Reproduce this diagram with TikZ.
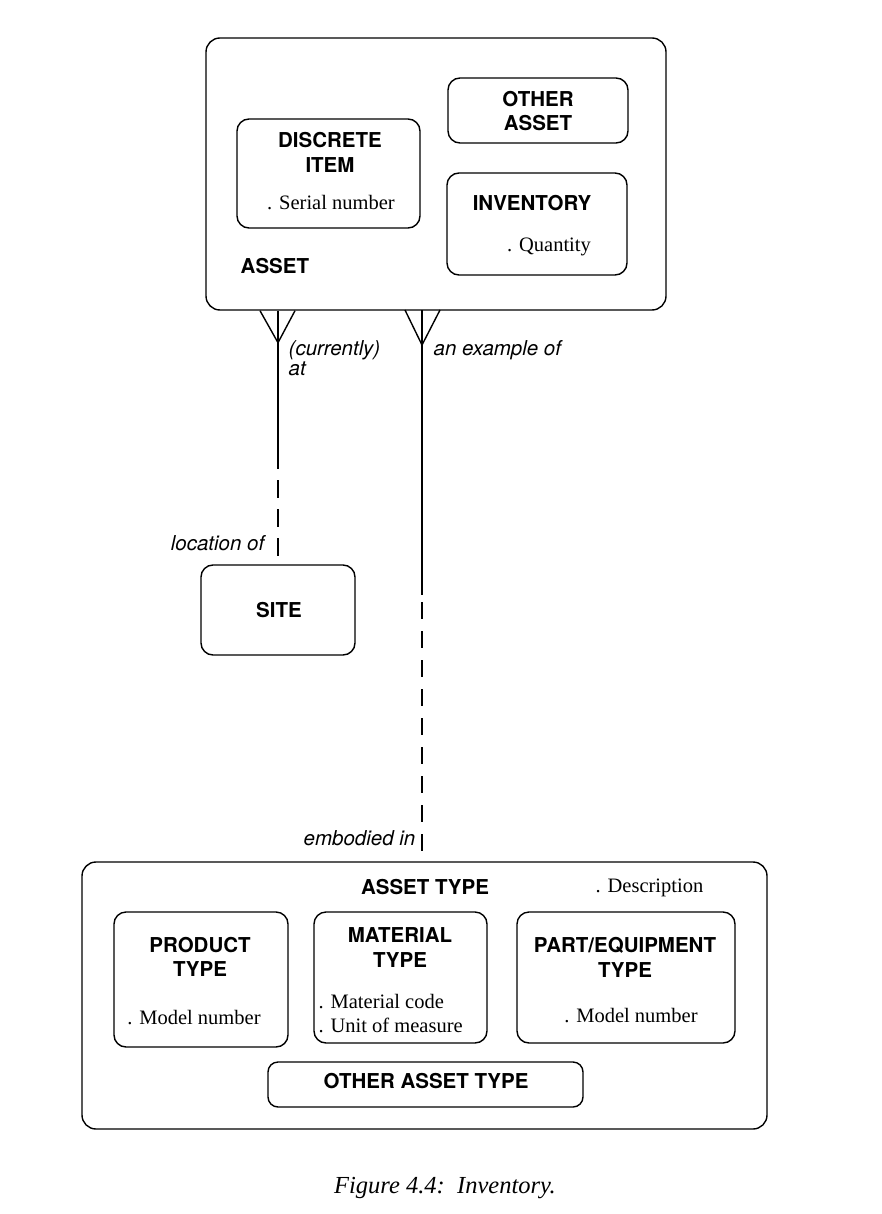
\documentclass[tikz,border=0pt]{standalone}
\usepackage{fontspec}
\setmainfont{Liberation Serif}
\setsansfont{TeX Gyre Heros}
\begin{document}
\begin{tikzpicture}[x=1pt,y=-1pt,line width=1.4pt,
  entity/.style={draw,rounded corners=12pt,inner sep=0pt},
  title/.style={font=\sffamily\bfseries\fontsize{20.5}{24}\selectfont,inner sep=0pt,anchor=base},
  attr/.style={font=\fontsize{20.5}{24}\selectfont,inner sep=0pt},
  rel/.style={font=\sffamily\itshape\fontsize{20.5}{24}\selectfont,inner sep=0pt},
  foot/.style={line width=1.4pt},
  dashA/.style={dash pattern=on 18pt off 11pt,dash phase=18pt},
  dashB/.style={dash pattern=on 17pt off 12pt,dash phase=22pt}]
\useasboundingbox (0,0) rectangle (882,1214);

% ASSET supertype
\node[entity,rounded corners=14pt,minimum width=460pt,minimum height=272pt] (asset) at (436,174) {};
\node[entity,minimum width=183pt,minimum height=109pt] (discrete) at (328.5,173.5) {};
\node[entity,minimum width=180pt,minimum height=65pt] (otherasset) at (538,110.5) {};
\node[entity,minimum width=180pt,minimum height=102pt] (inventory) at (537,224) {};

\node[title] (tdiscrete1) at (330,147.4) {DISCRETE};
\node[title] (tdiscrete2) at (330,172.4) {ITEM};
\node[attr,anchor=base] (aserial) at (331,210) {. Serial number};
\node[title] (tother1) at (538,106.4) {OTHER};
\node[title] (tother2) at (538,130.4) {ASSET};
\node[title] (tinventory) at (532,210.4) {INVENTORY};
\node[attr,anchor=base] (aquantity) at (549,252) {. Quantity};
\node[title,anchor=base west] (tasset) at (240,274) {ASSET};

% SITE
\node[entity,minimum width=154pt,minimum height=90pt] (site) at (278,610) {};
\node[title] (tsite) at (279,617) {SITE};

% ASSET TYPE supertype
\node[entity,rounded corners=14pt,minimum width=685pt,minimum height=267pt] (assettype) at (424.5,995.5) {};
\node[entity,minimum width=174pt,minimum height=135pt] (product) at (201,979.5) {};
\node[entity,minimum width=173pt,minimum height=131pt] (material) at (400.5,977.5) {};
\node[entity,minimum width=218pt,minimum height=131pt] (part) at (626,977.5) {};
\node[entity,rounded corners=10pt,minimum width=315pt,minimum height=45pt] (otherassettype) at (425.5,1084.5) {};

\node[title] (tassettype) at (425,894) {ASSET TYPE};
\node[attr,anchor=base west] (adescription) at (595,892) {. Description};
\node[title] (tproduct1) at (200,952) {PRODUCT};
\node[title] (tproduct2) at (200,976) {TYPE};
\node[attr,anchor=base] (amodel1) at (194,1024) {. Model number};
\node[title] (tmaterial1) at (400,942) {MATERIAL};
\node[title] (tmaterial2) at (400,967) {TYPE};
\node[attr,anchor=base west] (amatcode) at (318,1008) {. Material code};
\node[attr,anchor=base west] (aunit) at (318,1032) {. Unit of measure};
\node[title] (tpart1) at (625,952) {PART/EQUIPMENT};
\node[title] (tpart2) at (625,977) {TYPE};
\node[attr,anchor=base] (amodel2) at (631,1022) {. Model number};
\node[title] (totherassettype) at (426,1088) {OTHER ASSET TYPE};

% relationship ASSET -- SITE
\coordinate (la) at (asset.south -| site.north);
\path (site.north) ++(0,-95) coordinate (lmid);
\draw (la) -- (lmid);
\draw[dashA] (lmid) -- (site.north);
\draw[foot] ([xshift=-18pt]la) -- ([yshift=-32pt]la) -- ([xshift=17pt]la);
\node[rel,anchor=base west] (lcur1) at (288,355) {(currently)};
\node[rel,anchor=base west] (lcur2) at (288,375) {at};
\node[rel,anchor=base east] (lloc) at (265,550) {location of};

% relationship ASSET -- ASSET TYPE
\coordinate (ra) at (422,310);
\coordinate (rb) at (422,862);
\coordinate (rmid) at (422,595);
\draw (ra) -- (rmid);
\draw[dashB] (rmid) -- (rb);
\draw[foot] ([xshift=-17pt]ra) -- ([yshift=-35pt]ra) -- ([xshift=18pt]ra);
\node[rel,anchor=base west] (lexample) at (433,355) {an example of};
\node[rel,anchor=base east] (lembodied) at (416,845) {embodied in};

% caption
\node[font=\itshape\fontsize{24.5}{28}\selectfont,inner sep=0pt,anchor=base] (caption) at (445,1193) {Figure 4.4:\ \ Inventory.};
\end{tikzpicture}
\end{document}
